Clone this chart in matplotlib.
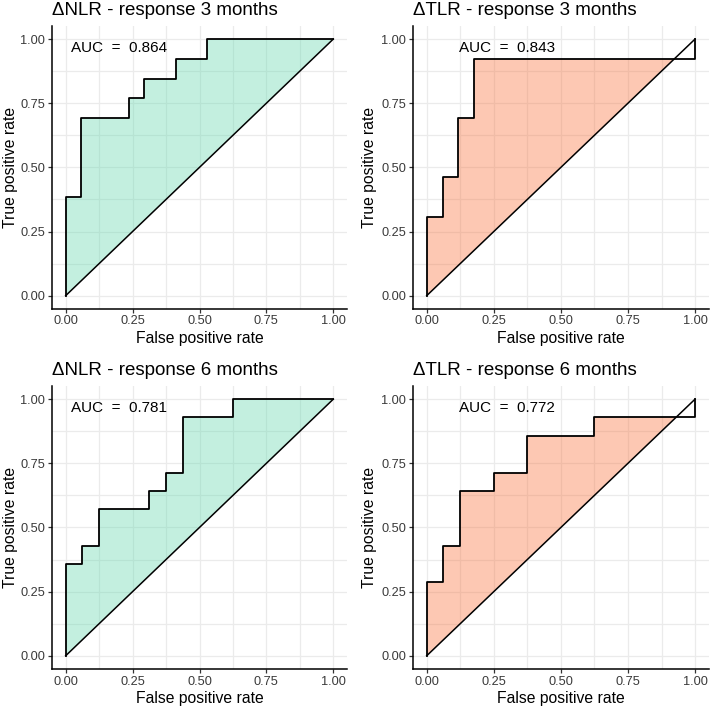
import matplotlib.pyplot as plt
from matplotlib.patches import Polygon
from matplotlib.ticker import MultipleLocator

plt.rcParams['font.family'] = ['Liberation Sans', 'DejaVu Sans']

# ROC corner points
nlr3_fpr = [0, 0, 0.059, 0.059, 0.235, 0.235, 0.294, 0.294, 0.412, 0.412, 0.529, 0.529, 1]
nlr3_tpr = [0, 0.385, 0.385, 0.692, 0.692, 0.769, 0.769, 0.846, 0.846, 0.923, 0.923, 1, 1]

tlr3_fpr = [0, 0, 0.059, 0.059, 0.118, 0.118, 0.176, 0.176, 1, 1]
tlr3_tpr = [0, 0.308, 0.308, 0.462, 0.462, 0.692, 0.692, 0.923, 0.923, 1]

nlr6_fpr = [0, 0, 0.0625, 0.0625, 0.125, 0.125, 0.3125, 0.3125, 0.375, 0.375, 0.4375, 0.4375, 0.625, 0.625, 1]
nlr6_tpr = [0, 0.357, 0.357, 0.429, 0.429, 0.571, 0.571, 0.643, 0.643, 0.714, 0.714, 0.929, 0.929, 1, 1]

tlr6_fpr = [0, 0, 0.0625, 0.0625, 0.125, 0.125, 0.25, 0.25, 0.375, 0.375, 0.625, 0.625, 1, 1]
tlr6_tpr = [0, 0.286, 0.286, 0.429, 0.429, 0.643, 0.643, 0.714, 0.714, 0.857, 0.857, 0.929, 0.929, 1]

titles = ['ΔNLR - response 3 months', 'ΔTLR - response 3 months',
          'ΔNLR - response 6 months', 'ΔTLR - response 6 months']
aucs = [0.864, 0.843, 0.781, 0.772]
auc_x = [0.2, 0.3, 0.2, 0.3]

green = '#69D9B1'
orange = '#FA7641'

fig = plt.figure(figsize=(7.1, 7.06), dpi=100)
W, H = 710, 706
boxes = [(52.3, 26.2, 294.4, 282.3), (413.3, 26.2, 295.2, 282.3),
         (52.3, 386.3, 294.4, 282.3), (413.3, 386.3, 295.2, 282.3)]
ylab_x = [-0.142, -0.147, -0.142, -0.147]
curves = [(nlr3_fpr, nlr3_tpr, green), (tlr3_fpr, tlr3_tpr, orange),
          (nlr6_fpr, nlr6_tpr, green), (tlr6_fpr, tlr6_tpr, orange)]

fmt = plt.FuncFormatter(lambda v, p: '%.2f' % v)

for i, (bx, (fpr, tpr, col)) in enumerate(zip(boxes, curves)):
    l, t, w, h = bx
    ax = fig.add_axes([l / W, 1 - (t + h) / H, w / W, h / H])
    ax.set_xlim(-0.05, 1.05)
    ax.set_ylim(-0.05, 1.05)

    # area between curve and diagonal, only above the diagonal
    poly = Polygon(list(zip(fpr, tpr)), closed=True, facecolor=col, alpha=0.4,
                   edgecolor='none', zorder=2)
    ax.add_patch(poly)
    clip = Polygon([(0, 0), (0, 1), (1, 1)], closed=True, transform=ax.transData)
    poly.set_clip_path(clip)

    ax.plot(fpr, tpr, color='black', lw=1.3, zorder=3)
    ax.plot([0, 1], [0, 1], color='black', lw=1.1, zorder=3)

    ax.text(auc_x[i], 0.965, 'AUC  =  %.3f' % aucs[i], ha='center', va='center',
            fontsize=11, color='black', zorder=4)

    ax.xaxis.set_major_locator(MultipleLocator(0.25))
    ax.yaxis.set_major_locator(MultipleLocator(0.25))
    ax.xaxis.set_minor_locator(MultipleLocator(0.125))
    ax.yaxis.set_minor_locator(MultipleLocator(0.125))
    ax.xaxis.set_major_formatter(fmt)
    ax.yaxis.set_major_formatter(fmt)
    ax.grid(which='major', color='#ebebeb', lw=0.9, zorder=0)
    ax.grid(which='minor', color='#ebebeb', lw=0.9, zorder=0)
    ax.set_axisbelow(True)
    ax.tick_params(which='minor', length=0)
    ax.tick_params(which='major', length=3, width=0.9, color='#333333',
                   labelsize=9.2, labelcolor='#3a3a3a', pad=2)
    for s in ['top', 'right']:
        ax.spines[s].set_visible(False)
    for s in ['left', 'bottom']:
        ax.spines[s].set_linewidth(1.1)

    ax.set_xlabel('False positive rate', fontsize=11.3, va='center')
    ax.set_ylabel('True positive rate', fontsize=11.3, va='center')
    ax.xaxis.set_label_coords(0.5, -0.106)
    ax.yaxis.set_label_coords(ylab_x[i], 0.5)
    ax.set_title(titles[i], loc='left', fontsize=13.5, pad=8)

fig.savefig('out.png', dpi=100)
